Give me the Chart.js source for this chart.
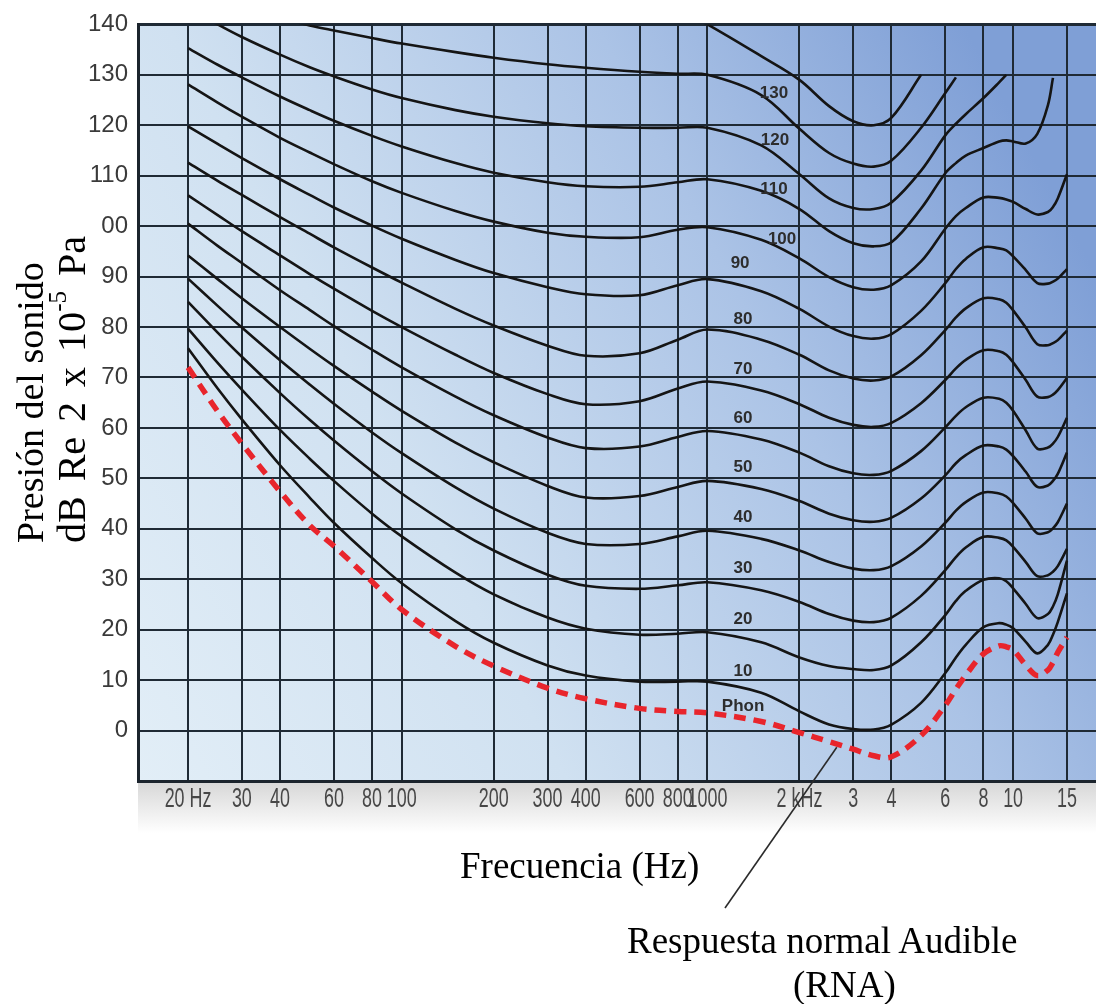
<!DOCTYPE html>
<html>
<head>
<meta charset="utf-8">
<script src="https://cdn.jsdelivr.net/npm/chart.js@4.4.1/dist/chart.umd.min.js"></script>
<style>
html,body{margin:0;padding:0;background:#fff;}
#wrap{position:relative;width:1096px;height:1004px;overflow:hidden;}
#c{position:absolute;left:0;top:0;}
.serif{position:absolute;white-space:nowrap;font-family:"Liberation Serif","Times New Roman",serif;font-size:37px;line-height:37px;color:#000;}
#ytitle{position:absolute;left:10px;top:183px;width:91px;height:360px;writing-mode:vertical-rl;transform:rotate(180deg);
  font-family:"Liberation Serif","Times New Roman",serif;font-size:38px;line-height:41px;background:#fff;white-space:nowrap;color:#000;}
#ytitle sup{font-size:25px;line-height:0;}
#ytitle .l2{font-size:40px;word-spacing:5px;}
</style>
</head>
<body>
<div id="wrap">
  <canvas id="c" width="1096" height="1004"></canvas>
  <div id="ytitle">Presión del sonido<br><span class="l2">dB Re 2 x 10<sup>-5</sup> Pa</span></div>
  <div class="serif" style="left:460px;top:847px;">Frecuencia (Hz)</div>
  <div class="serif" style="left:627px;top:922px;">Respuesta normal Audible</div>
  <div class="serif" style="left:793px;top:966px;">(RNA)</div>
</div>
<script>
// ---------------- data ----------------
const FREQ = [20, 25, 30, 40, 50, 60, 80, 100, 150, 200, 300, 400, 600, 800, 1000,
  1500, 2000, 2500, 3000, 3500, 4000, 5000, 6000, 6500, 7000, 8000, 9000, 9500, 10000,
  11000, 12000, 13000, 13500, 14000, 15000];

const PHON_140 = [null, null, null, null, null, null, null, null, null, null, null, null, null,
  143, 140, 133.7, 129, 123.8, 120.8, 120, 121.5, 130,
  null, null, null, null, null, null, null, null, null, null, null, null, null];
const PHON_130 = [null, null, null, 141.3, 139.8, 138.8, 137.3, 136.2, 134.5, 133.4, 132.1, 131.4, 130.6, 130.2, 130,
  126, 119.3, 114.5, 112.4, 111.8, 113, 119.5, 126.4, 129.5,
  null, null, null, null, null, null, null, null, null, null, null];
const PHON_120 = [143.3, 140, 137.5, 134, 131.5, 129.7, 127.1, 125.4, 123, 121.7, 120.4, 119.8, 119.5, 119.5, 119.5,
  116, 110.3, 105.5, 103.6, 103.4, 104.7, 111, 118, 120.3, 122.2, 125.4, 128.5, 130,
  null, null, null, null, null, null, null];
const PHON_110 = [135.3, 132, 129.5, 125.7, 123, 120.9, 117.9, 115.8, 112.5, 110.6, 108.7, 107.9, 107.8, 108.7, 109.3,
  107, 103.4, 99, 96.6, 96, 96.8, 103.5, 110.5, 112.5, 114, 115.5, 116.8, 117, 116.8,
  116.4, 118.3, 124, 129.4, null, null];
const PHON_100 = [128.1, 124.5, 121.7, 117.5, 114.6, 112.3, 108.9, 106.6, 103, 100.9, 98.7, 97.9, 97.8, 99.3, 99.8,
  97.3, 93.6, 89.9, 87.9, 87.4, 88.3, 93, 99.5, 102, 103.6, 105.7, 105.6, 105.3, 104.8,
  103.4, 102.3, 102.8, 103.8, 105.5, 110.3];
const PHON_90 = [119.8, 116.3, 113.5, 109.3, 106.2, 103.7, 100.1, 97.5, 93.3, 90.7, 87.9, 86.5, 86.3, 88.3, 89.5,
  87.1, 83.6, 80.1, 78.2, 77.7, 78.6, 83.2, 88.7, 91.5, 93.5, 95.8, 95.6, 95.2, 94,
  91.3, 88.7, 88.6, 89, 89.6, 91.5];
const PHON_80 = [112.6, 109, 106.2, 101.8, 98.5, 95.8, 91.8, 88.8, 83.6, 80.3, 76.3, 74.3, 74.8, 77.5, 79.5,
  77.5, 74.5, 71.4, 69.8, 69.4, 70.2, 74.4, 79.4, 81.9, 83.7, 85.7, 85.5, 84.8, 83.3,
  79.9, 76.6, 76.4, 76.8, 77.4, 79.3];
const PHON_70 = [106.1, 102.2, 99, 94.2, 90.5, 87.6, 83.2, 80, 74.5, 70.9, 66.7, 64.7, 65.3, 67.8, 69.2,
  67.4, 64.7, 62, 60.6, 60.2, 61, 64.9, 69.5, 71.8, 73.5, 75.4, 75.2, 74.5, 73,
  69.5, 66.2, 66.1, 66.6, 67.5, 69.9];
const PHON_60 = [100.5, 96.1, 92.7, 87.3, 83.4, 80.2, 75.5, 72, 66.2, 62.5, 58.1, 56, 56.3, 58.2, 59.4,
  57.7, 55.1, 52.4, 51, 50.7, 51.5, 55.4, 60.1, 62.4, 64.1, 66, 65.8, 65, 63.4,
  59.5, 55.9, 56.1, 56.9, 58.2, 62];
const PHON_50 = [94.2, 89.5, 85.7, 80, 75.7, 72.3, 67.2, 63.4, 57.1, 53.2, 48.5, 46.2, 46.5, 48.3, 49.5,
  47.9, 45.5, 43, 41.7, 41.4, 42.2, 46, 50.6, 53, 54.6, 56.5, 56.3, 55.7, 54.4,
  51.3, 48.3, 48.6, 49.5, 50.9, 55.1];
const PHON_40 = [89.6, 84.2, 79.9, 73.4, 68.6, 64.8, 59.1, 55, 48.2, 44, 39.2, 37, 37, 38.5, 39.6,
  38, 35.7, 33.4, 32.1, 31.8, 32.6, 36.5, 41.2, 43.6, 45.3, 47.2, 47, 46.4, 45.1,
  42, 39.1, 39.3, 40.1, 41.3, 45];
const PHON_30 = [85, 78.9, 74.1, 66.9, 61.6, 57.5, 51.4, 47, 39.9, 35.7, 30.9, 28.7, 28.1, 28.8, 29.4,
  27.8, 25.5, 23.1, 21.8, 21.5, 22.4, 26.7, 31.8, 34.4, 36.3, 38.4, 38.2, 37.7, 36.4,
  33.4, 30.6, 30.8, 31.5, 32.6, 36];
const PHON_20 = [79.7, 72.9, 67.6, 59.6, 53.9, 49.5, 43, 38.5, 31.3, 27, 22.4, 20.2, 19, 19.2, 19.5,
  17.5, 14.5, 12.8, 12.2, 12, 12.9, 17.5, 22.9, 25.7, 27.7, 29.9, 30.2, 29.6, 28.2,
  25.1, 22.3, 23.1, 24.6, 27, 33.7];
const PHON_10 = [75.8, 67.8, 61.7, 52.6, 46.2, 41.2, 34.2, 29.2, 21.7, 17.4, 12.9, 10.9, 9.7, 9.7, 9.7,
  7.5, 3.8, 1.2, 0.3, 0.2, 1.2, 5.5, 11.4, 14.5, 17, 20.5, 21.3, 21, 20.3,
  17.6, 15.3, 17, 19, 21.5, 27.2];
const RNA = [72, 63.3, 56.9, 47.4, 40.7, 36.6, 29.5, 24, 16.7, 12.8, 8.4, 6.3, 4.4, 3.8, 3.5,
  1.8, -0.4, -2.2, -3.7, -5, -5.2, -1, 5, 8.2, 11, 15.2, 16.8, 16.6, 16,
  13, 10.9, 12, 13.5, 15.5, 18.5];

const X_TICK_VALUES = [20, 30, 40, 60, 80, 100, 200, 300, 400, 600, 800, 1000, 2000, 3000, 4000, 6000, 8000, 10000, 15000];
const X_TICK_LABELS = ['20 Hz', '30', '40', '60', '80', '100', '200', '300', '400', '600', '800', '1000', '2 kHz', '3', '4', '6', '8', '10', '15'];
const Y_TICK_LABELS = ['0', '10', '20', '30', '40', '50', '60', '70', '80', '90', '100', '110', '120', '130', '140'];

const CURVE_LABELS = ['130', '120', '110', '100', '90', '80', '70', '60', '50', '40', '30', '20', '10', 'Phon'];
// where each curve label sits (frequency, dB)
const CURVE_LABEL_AT = [[1652, 126.4], [1664, 117.0], [1652, 107.3], [1755, 97.4], [1279, 92.7], [1308, 81.5],
  [1308, 71.6], [1308, 61.9], [1308, 52.1], [1308, 42.2], [1308, 32.1], [1308, 22.1], [1308, 11.8], [1308, 4.9]];

// ---------------- chart ----------------
function series(vals) {
  const out = [];
  FREQ.forEach((f, i) => { if (vals[i] !== null) out.push({x: f, y: vals[i]}); });
  return out;
}
const black = [PHON_140, PHON_130, PHON_120, PHON_110, PHON_100, PHON_90, PHON_80, PHON_70, PHON_60, PHON_50, PHON_40, PHON_30, PHON_20, PHON_10];
const datasets = black.map(v => ({
  data: series(v), borderColor: '#151515', borderWidth: 2.6, pointRadius: 0,
  tension: 0.35, fill: false
}));
datasets.push({
  data: series(RNA), borderColor: '#e8252c', borderWidth: 5.5, borderDash: [12, 8],
  borderCapStyle: 'butt', pointRadius: 0, tension: 0.35, fill: false
});

const bgPlugin = {
  id: 'bg',
  beforeDraw(chart) {
    const {ctx, chartArea: a} = chart;
    ctx.save();
    const g = ctx.createLinearGradient(a.left, a.bottom, a.right, a.top + 250);
    g.addColorStop(0, '#e2eef7');
    g.addColorStop(0.35, '#d0e1f1');
    g.addColorStop(0.7, '#abc3e6');
    g.addColorStop(1, '#7f9fd6');
    ctx.fillStyle = g;
    ctx.fillRect(a.left, a.top, a.right - a.left, a.bottom - a.top);
    const g2 = ctx.createLinearGradient(0, a.bottom, 0, a.bottom + 52);
    g2.addColorStop(0, '#d6d6d6');
    g2.addColorStop(1, '#ffffff');
    ctx.fillStyle = g2;
    ctx.fillRect(a.left, a.bottom, a.right - a.left, 52);
    ctx.restore();
  }
};

const labelPlugin = {
  id: 'labels',
  afterDatasetsDraw(chart) {
    const {ctx, scales: {x, y}, chartArea: a} = chart;
    ctx.save();
    // curve labels
    ctx.font = 'bold 17px "Liberation Sans", Arial, sans-serif';
    ctx.fillStyle = '#2d2d2d';
    ctx.textAlign = 'center';
    ctx.textBaseline = 'middle';
    CURVE_LABELS.forEach((t, i) => {
      ctx.fillText(t, x.getPixelForValue(CURVE_LABEL_AT[i][0]), y.getPixelForValue(CURVE_LABEL_AT[i][1]));
    });
    // condensed frequency tick labels
    ctx.font = '28px "Liberation Sans", Arial, sans-serif';
    ctx.fillStyle = '#474747';
    X_TICK_VALUES.forEach((v, i) => {
      ctx.save();
      ctx.translate(x.getPixelForValue(v), a.bottom + 18);
      ctx.scale(0.64, 1);
      ctx.fillText(X_TICK_LABELS[i], 0, 0);
      ctx.restore();
    });
    // pointer from the RNA curve to its caption
    ctx.strokeStyle = '#2b2b2b';
    ctx.lineWidth = 1.6;
    ctx.beginPath();
    ctx.moveTo(x.getPixelForValue(2650), y.getPixelForValue(-3.3));
    ctx.lineTo(725, 908);
    ctx.stroke();
    ctx.restore();
  }
};

new Chart(document.getElementById('c'), {
  type: 'line',
  data: {datasets},
  options: {
    responsive: false,
    animation: false,
    devicePixelRatio: 1,
    layout: {padding: {top: 20, right: 0, left: 0, bottom: 0}},
    plugins: {legend: {display: false}, tooltip: {enabled: false}},
    scales: {
      x: {
        type: 'logarithmic', min: 13.72, max: 18670,
        afterBuildTicks: s => { s.ticks = X_TICK_VALUES.map(v => ({value: v})); },
        afterFit: s => { s.height = 223; },
        ticks: {display: false, autoSkip: false, maxRotation: 0, minRotation: 0},
        grid: {color: '#1f2a35', lineWidth: 2, drawTicks: false},
        border: {display: true, color: '#1b242d', width: 3}
      },
      y: {
        type: 'linear', min: -10, max: 140,
        afterFit: s => { s.width = 138; },
        ticks: {stepSize: 10, padding: 10, color: '#3a3a3a',
          font: {family: '"Liberation Sans", Arial, sans-serif', size: 24},
          callback: v => (v < 0 ? '' : Y_TICK_LABELS[Math.round(v / 10)])},
        grid: {color: '#1f2a35', lineWidth: c => (c.tick && c.tick.value === 140 ? 3 : 2), drawTicks: false},
        border: {display: true, color: '#1b242d', width: 3}
      }
    }
  },
  plugins: [bgPlugin, labelPlugin]
});
</script>
</body>
</html>
